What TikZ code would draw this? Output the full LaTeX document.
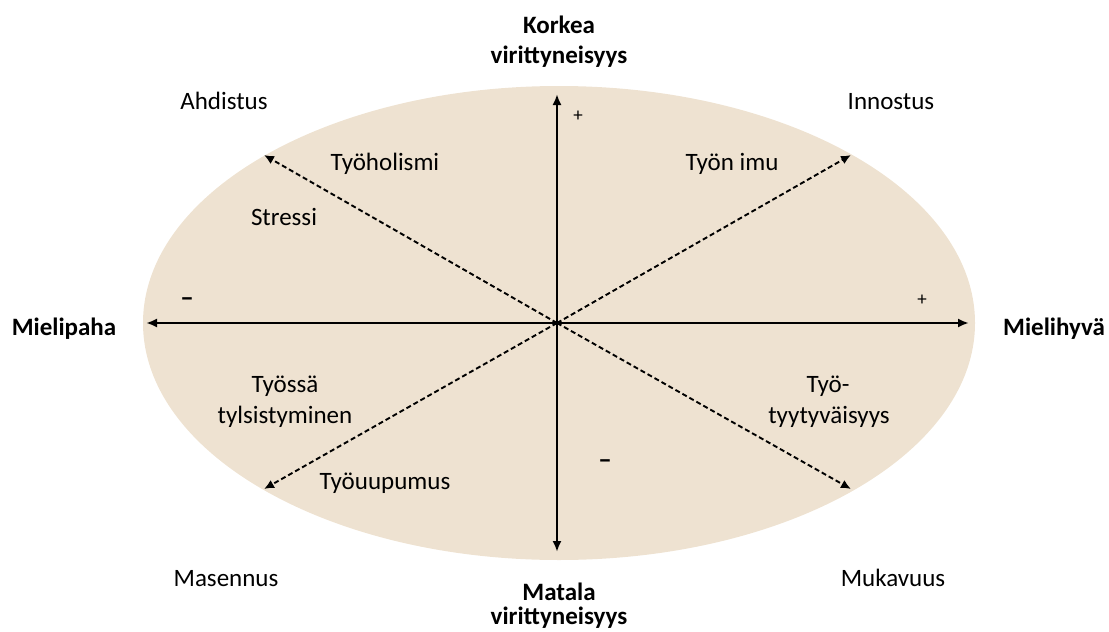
\documentclass[tikz,border=0pt]{standalone}
\usepackage{fontspec}
\setmainfont{Carlito}
\usetikzlibrary{arrows.meta}
\definecolor{ellfill}{HTML}{EEE2D1}
\tikzset{
  axis/.style={line width=2.9pt,-{Latex[length=11pt,width=9pt]}},
  diag/.style={line width=1.9pt,dash pattern=on 5pt off 3pt,-{Latex[length=10pt,width=9pt]}},
  lbl/.style={font=\fontsize{25}{30}\selectfont,inner sep=0pt,anchor=base},
  pole/.style={font=\fontsize{25}{30}\selectfont\bfseries,inner sep=0pt,anchor=base},
  sign/.style={font=\fontsize{19}{22}\selectfont,inner sep=0pt},
  minus/.style={font=\fontsize{27}{30}\selectfont\bfseries,inner sep=0pt}
}
\begin{document}
\begin{tikzpicture}[x=1pt,y=-1pt]
  \useasboundingbox (0,0) rectangle (1109,632);
  % background ellipse
  \fill[ellfill] (559,323) ellipse [x radius=416, y radius=237];

  \coordinate (o) at (557,323);
  \coordinate (top) at (557,94);
  \coordinate (bot) at (557,552);
  \coordinate (lft) at (146,323);
  \coordinate (rgt) at (969,323);
  \coordinate (nw) at (264,155);
  \coordinate (ne) at (851,155);
  \coordinate (sw) at (264,489);
  \coordinate (se) at (851,489);

  % axes
  \draw[axis] (o) -- (top);
  \draw[axis] (o) -- (bot);
  \draw[axis] (o) -- (lft);
  \draw[axis] (o) -- (rgt);
  % diagonals
  \draw[diag] (o) -- (nw);
  \draw[diag] (o) -- (ne);
  \draw[diag] (o) -- (sw);
  \draw[diag] (o) -- (se);

  % pole labels
  \node[pole] (high1) at (559,33) {Korkea};
  \node[pole] (high2) at (559,63) {virittyneisyys};
  \node[pole] (low1) at (559,600) {Matala};
  \node[pole] (low2) at (559,624) {virittyneisyys};
  \node[pole] (neg) at (64,335) {Mielipaha};
  \node[pole] (pos) at (1054,335) {Mielihyvä};

  % corner labels
  \node[lbl] (c1) at (224,109) {Ahdistus};
  \node[lbl] (c2) at (891,109) {Innostus};
  \node[lbl] (c3) at (226,586) {Masennus};
  \node[lbl] (c4) at (893,586) {Mukavuus};

  % quadrant labels
  \node[lbl] (q1) at (385,170) {Työholismi};
  \node[lbl] (q2) at (284,225) {Stressi};
  \node[lbl] (q3) at (732,170) {Työn imu};
  \node[lbl] (q4) at (285,392) {Työssä};
  \node[lbl] (q5) at (285,423) {tylsistyminen};
  \node[lbl] (q6) at (828,392) {Työ-};
  \node[lbl] (q7) at (829,423) {tyytyväisyys};
  \node[lbl] (q8) at (385,489) {Työuupumus};

  % signs
  \node[sign] (p1) at (578,116) {+};
  \node[sign] (p2) at (922,300) {+};
  \node[minus] (m1) at (187,302) {–};
  \node[minus] (m2) at (605,464) {–};
\end{tikzpicture}
\end{document}
